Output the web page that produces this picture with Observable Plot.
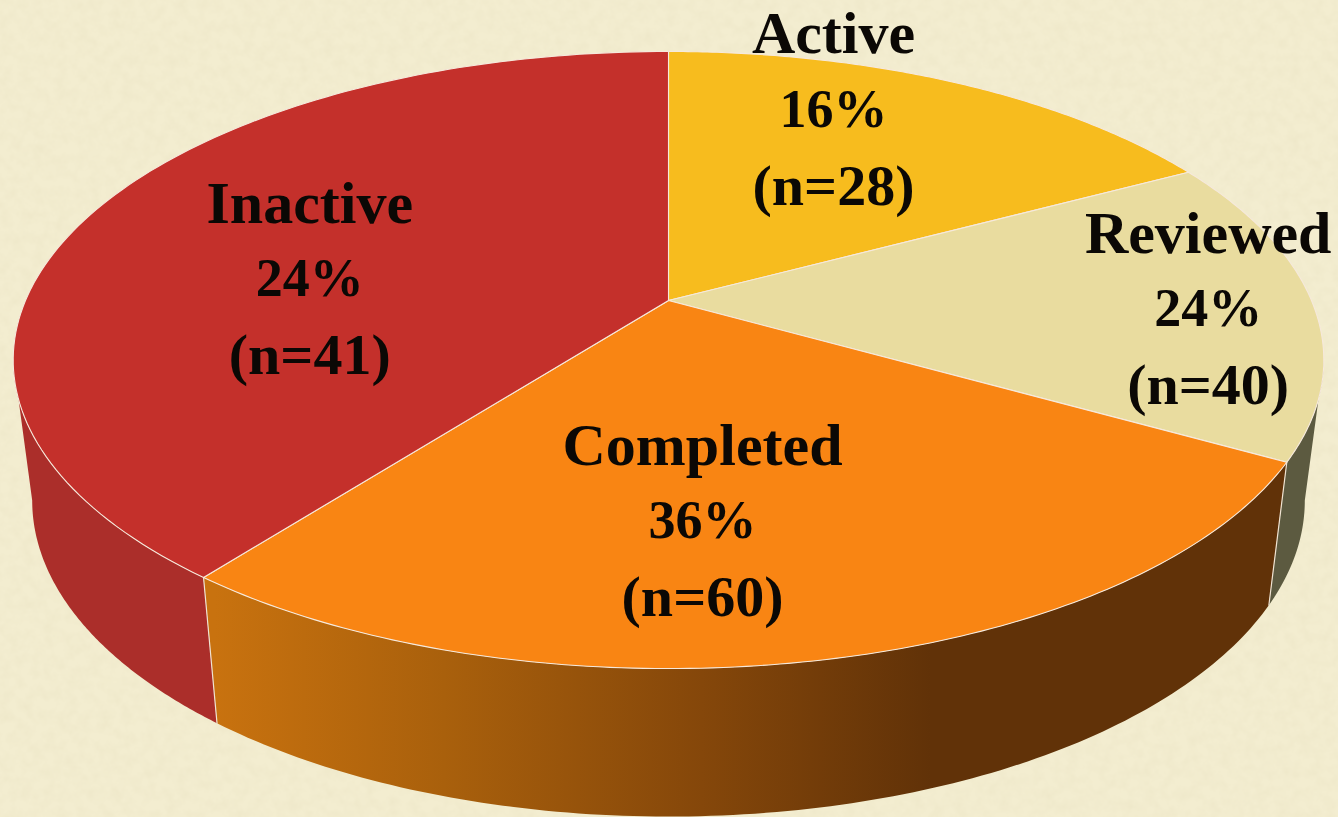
<!DOCTYPE html>
<html>
<head>
<meta charset="utf-8">
<style>html,body{margin:0;padding:0;background:#F2ECCF;overflow:hidden}</style>
<script src="https://cdn.jsdelivr.net/npm/d3@7"></script>
<script src="https://cdn.jsdelivr.net/npm/@observablehq/plot@0.6"></script>
</head>
<body>
<script>
// Data
const categories = ["Active", "Reviewed", "Completed", "Inactive"];
const percentLabels = ["16%", "24%", "36%", "24%"];
const countLabels = ["(n=28)", "(n=40)", "(n=60)", "(n=41)"];
// Share of the circle each wedge actually occupies in the drawing, percent
const drawnShares = [17.2, 16.0, 27.3, 39.5];
const topColors = ["#F7BC1E", "#E9DC9F", "#F98513", "#C4302B"];

// Perspective of the disc: unit circle -> picture plane
const cx = 668, apexY = 300, spreadX = 643, spreadY = 239.2, persp = 0.1929;
const project = (u, v) => {
  const w = 1 + persp * v;
  return {x: cx + spreadX * u / w, y: (apexY - spreadY * v) / w};
};
const rimPoint = (deg) => project(Math.sin(deg * Math.PI / 180), Math.cos(deg * Math.PI / 180));
// Lower rim of the side wall, from the upper rim ellipse
const upper = {cy: 359.5, a: 655, b: 308.5}, lower = {cy: 500, a: 636, b: 316};
const drop = (p) => ({
  x: cx + (p.x - cx) / upper.a * lower.a,
  y: lower.cy + (p.y - upper.cy) / upper.b * lower.b
});
const arc = (from, to) => d3.range(0, 121).map(i => rimPoint(from + (to - from) * i / 120));

// Wedge edges accumulated from the top, clockwise
const edges = [0];
drawnShares.forEach(s => edges.push(edges[edges.length - 1] + s * 3.6));
const apex = project(0, 0);
const wedges = categories.map((c, i) => [apex, ...arc(edges[i], edges[i + 1]), apex]);

// Side walls: visible between the widest points of the ellipse
const tangentR = 180 / Math.PI * Math.acos(-persp), tangentL = 360 - tangentR;
const wall = (from, to) => {
  const top = arc(from, to);
  return [...top, ...top.slice().reverse().map(drop), top[0]];
};
const walls = [
  {d: wall(tangentR, edges[2]), fill: "#5C5A40"},
  {d: wall(edges[2], edges[3]), fill: "url(#completedWall)"},
  {d: wall(edges[3], tangentL), fill: "#AB2E2A"}
];

// Label centres, in disc coordinates
const labelU = [0.293, 0.835, 0.0463, -0.566];
const labelV = [0.735, -0.0268, -0.648, 0.0752];
const labels = categories.map((c, i) => ({
  ...project(labelU[i], labelV[i]), name: c, pct: percentLabels[i], n: countLabels[i]
}));
const serif = "'Liberation Serif', serif";

const background = () => {
  const ns = "http://www.w3.org/2000/svg";
  const g = document.createElementNS(ns, "g");
  g.innerHTML = `
    <defs>
      <linearGradient id="completedWall" gradientUnits="userSpaceOnUse" x1="215" y1="0" x2="930" y2="0">
        <stop offset="0" stop-color="#C8720F"/>
        <stop offset="0.32" stop-color="#A9600C"/>
        <stop offset="0.68" stop-color="#85470A"/>
        <stop offset="1" stop-color="#613208"/>
      </linearGradient>
      <filter id="parchment" x="0" y="0" width="100%" height="100%">
        <feTurbulence type="fractalNoise" baseFrequency="0.09" numOctaves="3" seed="7"/>
        <feColorMatrix values="0 0 0 0 0.76  0 0 0 0 0.70  0 0 0 0 0.48  0.42 0 0 0 -0.14"/>
      </filter>
    </defs>
    <rect width="1338" height="817" fill="#F3EDD0"/>
    <rect width="1338" height="817" filter="url(#parchment)"/>`;
  return g;
};

const chart = Plot.plot({
  width: 1338,
  height: 817,
  margin: 0,
  x: {domain: [0, 1338], range: [0, 1338], axis: null},
  y: {domain: [0, 817], range: [0, 817], axis: null},
  style: {background: "#F2ECCF", display: "block"},
  marks: [
    background,
    ...walls.map(w => Plot.line(w.d, {x: "x", y: "y", fill: w.fill, stroke: "none"})),
    // wall seams
    ...[edges[2], edges[3]].map(e => Plot.line([rimPoint(e), drop(rimPoint(e))],
      {x: "x", y: "y", stroke: "#EFE3D2", strokeWidth: 1.2})),
    ...wedges.map((d, i) => Plot.line(d, {
      x: "x", y: "y", fill: topColors[i], stroke: "#F6E9DC", strokeWidth: 1.1, strokeLinejoin: "round"
    })),
    Plot.text(labels, {x: "x", y: "y", text: "name", dy: -75, fontSize: 60, fontWeight: 700, fontFamily: serif, fill: "#0B0805"}),
    Plot.text(labels, {x: "x", y: "y", text: "pct", fontSize: 54, fontWeight: 700, fontFamily: serif, fill: "#0B0805"}),
    Plot.text(labels, {x: "x", y: "y", text: "n", dy: 77, fontSize: 58, fontWeight: 700, fontFamily: serif, fill: "#0B0805"})
  ]
});
document.body.appendChild(chart);
</script>
</body>
</html>
